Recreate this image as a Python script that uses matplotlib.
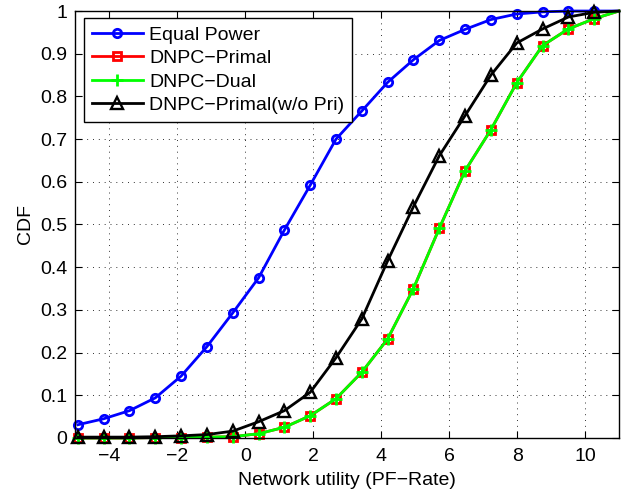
import matplotlib
matplotlib.use("Agg")
import matplotlib.pyplot as plt
from matplotlib.ticker import FixedLocator, FuncFormatter

plt.rcParams["font.family"] = ["Liberation Sans", "DejaVu Sans"]
plt.rcParams["font.size"] = 14

# network utility samples (common x grid of all four curves)
x = [-4.93, -4.17, -3.41, -2.65, -1.89, -1.13, -0.37, 0.39, 1.15, 1.91, 2.67,
     3.43, 4.19, 4.95, 5.71, 6.47, 7.23, 7.99, 8.75, 9.51, 10.27, 11.0]

cdf_equal = [0.031, 0.045, 0.064, 0.094, 0.145, 0.214, 0.293, 0.375, 0.487, 0.592, 0.700,
             0.766, 0.833, 0.886, 0.931, 0.957, 0.980, 0.993, 0.998, 1.0, 1.0, 1.0]
cdf_primal = [0.0, 0.0, 0.0, 0.001, 0.001, 0.002, 0.003, 0.010, 0.025, 0.052, 0.092,
              0.154, 0.232, 0.350, 0.491, 0.626, 0.722, 0.832, 0.919, 0.958, 0.982, 1.0]
cdf_dual = [0.0, 0.0, 0.0, 0.001, 0.001, 0.002, 0.003, 0.010, 0.025, 0.052, 0.092,
            0.154, 0.232, 0.350, 0.491, 0.626, 0.722, 0.832, 0.919, 0.958, 0.982, 1.0]
cdf_nopri = [0.002, 0.002, 0.002, 0.003, 0.005, 0.008, 0.016, 0.038, 0.064, 0.107, 0.188,
             0.279, 0.415, 0.542, 0.661, 0.755, 0.850, 0.925, 0.958, 0.986, 0.997, 1.0]

labels = ["Equal Power", "DNPC\u2212Primal", "DNPC\u2212Dual", "DNPC\u2212Primal(w/o Pri)"]
xticks = [-4, -2, 0, 2, 4, 6, 8, 10]
yticks = [0, 0.1, 0.2, 0.3, 0.4, 0.5, 0.6, 0.7, 0.8, 0.9, 1.0]

fig = plt.figure(figsize=(6.37, 4.92), dpi=100)
ax = fig.add_axes([0.1185, 0.1098, 0.8532, 0.8678])

marks = slice(0, 21)  # last sample sits on the right border, no marker there
common = dict(lw=2, markevery=marks, clip_on=False, mew=2)
ax.plot(x, cdf_equal, color="#0000ff", marker="o", ms=6, mfc="none", label=labels[0], **common)
ax.plot(x, cdf_primal, color="#ff0000", marker="s", ms=6, mfc="none", label=labels[1], **common)
ax.plot(x, cdf_dual, color="#00ff00", marker="+", ms=8, label=labels[2], **common)
ax.plot(x, cdf_nopri, color="black", marker="^", ms=9, mfc="none", label=labels[3],
        lw=2, markevery=marks, clip_on=False, mew=1.7)

ax.set_xlim(-5, 11)
ax.set_ylim(0, 1)
ax.xaxis.set_major_locator(FixedLocator(xticks))
ax.yaxis.set_major_locator(FixedLocator(yticks))
ax.yaxis.set_major_formatter(FuncFormatter(lambda v, p: f"{v:g}"))
ax.tick_params(direction="in", length=5, width=0.8, top=True, right=True, pad=6)
ax.tick_params(axis="x", pad=7.5)
ax.grid(True, color="black", lw=0.7, ls=(0, (1, 5)), alpha=0.8)
for sp in ax.spines.values():
    sp.set_linewidth(1.0)
    sp.set_zorder(5)

ax.set_xlabel("Network utility (PF\u2212Rate)", labelpad=4.5)
ax.set_ylabel("CDF", labelpad=4)

leg = ax.legend(loc="upper left", bbox_to_anchor=(0.016, 0.983), borderaxespad=0,
                frameon=True, fancybox=False, framealpha=1, edgecolor="black",
                handlelength=2.6, handletextpad=0.35, labelspacing=0.3, borderpad=0.4)
leg.get_frame().set_linewidth(1.0)
leg.set_zorder(10)

fig.savefig("out.png", dpi=100)
